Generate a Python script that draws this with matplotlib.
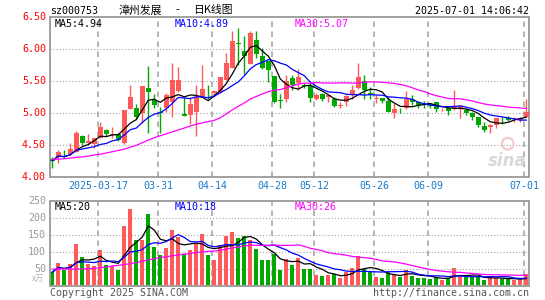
import numpy as np
import pandas as pd
import matplotlib.pyplot as plt

plt.rcParams['lines.scale_dashes'] = False

# daily candles 2025-03-05 .. 2025-07-01 (80 trading days)
opens = [4.28, 4.31, 4.33, 4.36, 4.39, 4.65, 4.54, 4.52, 4.62, 4.74,
         4.66, 4.67, 4.53, 5.06, 5.08, 5.01, 5.39, 5.21, 5.02, 5.08,
         5.17, 5.35, 4.99, 4.97, 5.02, 5.26, 5.26, 5.31, 5.34, 5.52,
         5.71, 6.10, 5.97, 5.77, 6.15, 5.89, 5.81, 5.58, 5.20, 5.22,
         5.55, 5.48, 5.44, 5.43, 5.23, 5.30, 5.25, 5.22, 5.12, 5.17,
         5.29, 5.40, 5.51, 5.31, 5.22, 5.24, 5.19, 5.00, 5.04, 5.08,
         5.22, 5.17, 5.15, 5.14, 5.17, 5.06, 5.09, 5.08, 5.09, 5.05,
         5.00, 4.94, 4.80, 4.79, 4.81, 4.93, 4.92, 4.91, 4.90, 4.95]
highs = [4.32, 4.42, 4.42, 4.53, 4.72, 4.66, 4.67, 4.62, 4.87, 4.76,
         4.78, 4.70, 5.05, 5.45, 5.14, 5.43, 5.74, 5.30, 5.10, 5.31,
         5.78, 5.73, 5.26, 5.26, 5.45, 5.76, 5.45, 5.36, 5.56, 5.94,
         6.28, 6.33, 6.21, 6.29, 6.28, 6.02, 5.82, 5.58, 5.30, 5.60,
         5.60, 5.70, 5.47, 5.47, 5.31, 5.31, 5.29, 5.26, 5.17, 5.29,
         5.44, 5.78, 5.60, 5.41, 5.29, 5.24, 5.26, 5.16, 5.08, 5.35,
         5.29, 5.19, 5.19, 5.16, 5.18, 5.09, 5.10, 5.36, 5.13, 5.08,
         5.02, 4.95, 4.86, 4.84, 4.93, 4.95, 4.96, 4.94, 4.94, 5.22]
lows = [4.15, 4.22, 4.30, 4.35, 4.39, 4.51, 4.51, 4.46, 4.61, 4.65,
        4.61, 4.57, 4.52, 5.06, 4.91, 4.85, 4.69, 5.08, 4.70, 5.02,
        4.95, 5.34, 4.96, 4.84, 4.64, 5.25, 5.22, 5.26, 5.32, 5.52,
        5.71, 5.76, 5.61, 5.77, 5.86, 5.69, 5.49, 5.16, 5.09, 5.17,
        5.37, 5.37, 5.39, 5.18, 5.21, 5.19, 5.18, 5.10, 5.09, 5.11,
        5.22, 5.38, 5.22, 5.22, 5.16, 5.16, 5.02, 4.93, 5.00, 5.07,
        5.13, 5.08, 5.09, 5.09, 5.02, 5.04, 4.97, 5.05, 4.93, 4.97,
        4.90, 4.78, 4.71, 4.70, 4.77, 4.84, 4.88, 4.87, 4.87, 4.94]
closes = [4.26, 4.40, 4.31, 4.44, 4.70, 4.54, 4.57, 4.61, 4.79, 4.67,
          4.67, 4.59, 5.05, 5.25, 4.95, 5.43, 5.34, 5.13, 5.01, 5.28,
          5.52, 5.52, 4.96, 5.15, 5.25, 5.38, 5.245, 5.35, 5.56, 5.79,
          6.13, 6.09, 5.90, 6.25, 5.92, 5.71, 5.68, 5.18, 5.19, 5.51,
          5.44, 5.57, 5.43, 5.24, 5.28, 5.22, 5.28, 5.12, 5.13, 5.27,
          5.37, 5.57, 5.37, 5.30, 5.23, 5.19, 5.02, 5.07, 5.03, 5.22,
          5.17, 5.13, 5.14, 5.11, 5.07, 5.07, 5.04, 5.10, 5.11, 5.01,
          4.95, 4.82, 4.74, 4.82, 4.92, 4.92, 4.90, 4.92, 4.93, 5.02]
volume = [40, 67, 45, 64, 122, 84, 63, 59, 105, 61,
          58, 46, 175, 225, 134, 135, 211, 113, 90, 112,
          164, 142, 92, 105, 123, 152, 90, 75, 120, 146,
          158, 140, 146, 134, 108, 75, 75, 92, 45, 80,
          62, 82, 50, 50, 31, 28, 31, 33, 23, 39,
          52, 86, 50, 40, 25, 23, 40, 34, 27, 46,
          29, 23, 23, 20, 26, 17, 23, 52, 31, 25,
          25, 25, 17, 25, 23, 21, 19, 16, 16, 34]

# MA30 for the first 29 days depends on earlier history
ma30_head = [4.28, 4.285, 4.29, 4.30, 4.31, 4.32, 4.33, 4.35, 4.36, 4.38,
             4.40, 4.42, 4.44, 4.47, 4.50, 4.54, 4.58, 4.62, 4.65, 4.68,
             4.71, 4.74, 4.77, 4.80, 4.83, 4.85, 4.87, 4.89, 4.93]
vma30_head = [49, 49, 49, 49, 49, 49, 50, 51, 53, 55,
              58, 60, 62, 65, 68, 72, 76, 79, 83, 85,
              88, 90, 93, 95, 98, 99, 101, 102, 104]

date_labels = ['2025-03-17', '03-31', '04-14', '04-28', '05-12', '05-26', '06-09', '07-01']
date_pos = [8, 18, 27, 37, 44, 54, 63, 79]
price_ticks = [6.5, 6.0, 5.5, 5.0, 4.5, 4.0]
vol_ticks = [250, 200, 150, 100, 50]

RED = '#ff5a5a'
GREEN = '#00a800'
GRID = '#a0a0a0'

o = np.array(opens); h = np.array(highs); l = np.array(lows); c = np.array(closes)
v = np.array(volume)
x = np.arange(len(c))
up = c >= o
cols = np.where(up, RED, GREEN)

cs = pd.Series(c)
vs = pd.Series(v, dtype=float)
ma = {n: cs.rolling(n, min_periods=1).mean() for n in (5, 10, 30)}
vma = {n: vs.rolling(n, min_periods=1).mean() for n in (5, 10, 30)}
ma[30][:len(ma30_head)] = ma30_head
vma[30][:len(vma30_head)] = vma30_head
ma_cols = {5: 'black', 10: '#0000ff', 30: '#ff00ff'}

W, H = 545, 300
fig = plt.figure(figsize=(W / 100, H / 100), dpi=100)

def box(x0, y0, x1, y1):
    return [x0 / W, 1 - y1 / H, (x1 - x0) / W, (y1 - y0) / H]

def ftext(px, py, s, **kw):
    fig.text(px / W, 1 - py / H, s, **kw)

xlim = (-2.3 / 6, len(c) - 1 + 0.5)
mono = 'DejaVu Sans Mono'
cjk = ['Noto Sans CJK SC', 'DejaVu Sans']

# price panel
ax = fig.add_axes(box(50, 17.3, 529.3, 177.3))
ax.set_xlim(*xlim)
ax.set_ylim(4.0, 6.5)
for p in price_ticks[1:-1]:
    ax.axhline(p, color=GRID, lw=0.8, ls=(0, (0.75, 1.5)), zorder=0)
for d in date_pos:
    ax.axvline(d - 1 / 3, color=GRID, lw=1.1, ls=(0, (4, 3.2)), zorder=0)
ax.vlines(x, l, h, colors=cols, lw=1.0, zorder=2)
body = np.maximum(np.abs(c - o), 0.012)
ax.bar(x, body, bottom=np.minimum(o, c), width=0.75, color=cols, lw=0, zorder=3)
for n in (5, 10, 30):
    ax.plot(x, ma[n], color=ma_cols[n], lw=0.9, zorder=4)
# faint sina watermark
ax.text(0.995, 0.1, 'sina', transform=ax.transAxes, ha='right', va='center',
        fontsize=12, fontweight='bold', style='italic', color='#d8d8d8', zorder=1)
ax.scatter([0.955], [0.21], s=70, transform=ax.transAxes, facecolors='none',
           edgecolors='#f0c8c8', linewidths=1.5, zorder=1)

# volume panel
av = fig.add_axes(box(50, 200.7, 529.3, 285.7))
av.set_xlim(*xlim)
av.set_ylim(0, 250)
for p in vol_ticks[1:]:
    av.axhline(p, color=GRID, lw=0.8, ls=(0, (0.75, 1.5)), zorder=0)
for d in date_pos:
    av.axvline(d - 1 / 3, color=GRID, lw=1.1, ls=(0, (4, 3.2)), zorder=0)
av.bar(x, v, width=0.68, color=cols, lw=0, zorder=2)
for n in (5, 10, 30):
    av.plot(x, vma[n], color=ma_cols[n], lw=0.9, zorder=3)

for a in (ax, av):
    a.set_xticks([])
    a.set_yticks([])
    for s in a.spines.values():
        s.set_color(GRID)
        s.set_linewidth(1.4)

# axis labels
for p in price_ticks:
    ftext(46, 17.3 + (6.5 - p) * 64, '%.2f' % p, ha='right', va='center',
          fontsize=7.2, family=mono, color='red')
for p in vol_ticks:
    ftext(46, 285.7 - p * 0.34, '%d' % p, ha='right', va='center',
          fontsize=7.2, family=mono, color='#999999')
ftext(44, 278, 'x万', ha='right', va='center', fontsize=6.0, family=cjk, color='#b0b0b0')
for lab, d in zip(date_labels, date_pos):
    ftext(52.3 + 6 * d - 2, 186, lab, ha='center', va='center',
          fontsize=7.2, family=mono, color='#1a7ac8')

# header texts
ftext(50, 11, 'sz000753', ha='left', va='center', fontsize=7.2, family=mono, color='black')
ftext(118.5, 10.5, '漳州发展', ha='left', va='center', fontsize=7.8, family=cjk, color='black')
ftext(177.5, 10.5, '-', ha='center', va='center', fontsize=7.8, family=cjk, color='black')
ftext(193.5, 10.5, '日K线图', ha='left', va='center', fontsize=7.8, family=cjk, color='black')
ftext(529.3, 11, '2025-07-01 14:06:42', ha='right', va='center', fontsize=7.2,
      family=mono, color='black')

ftext(55, 24, 'MA5:4.94', ha='left', va='center', fontsize=7.2, family=mono, color='black')
ftext(175, 24, 'MA10:4.89', ha='left', va='center', fontsize=7.2, family=mono, color='#0000ff')
ftext(295, 24, 'MA30:5.07', ha='left', va='center', fontsize=7.2, family=mono, color='#ff00ff')
ftext(55, 206.5, 'MA5:20', ha='left', va='center', fontsize=7.2, family=mono, color='black')
ftext(175, 206.5, 'MA10:18', ha='left', va='center', fontsize=7.2, family=mono, color='#0000ff')
ftext(295, 206.5, 'MA30:26', ha='left', va='center', fontsize=7.2, family=mono, color='#ff00ff')

ftext(50, 292.5, 'Copyright 2025 SINA.COM', ha='left', va='center', fontsize=7.2,
      family=mono, color='#555555')
ftext(529.3, 292.5, 'http://finance.sina.com.cn', ha='right', va='center', fontsize=7.2,
      family=mono, color='#555555')

fig.savefig('out.png', dpi=100)
